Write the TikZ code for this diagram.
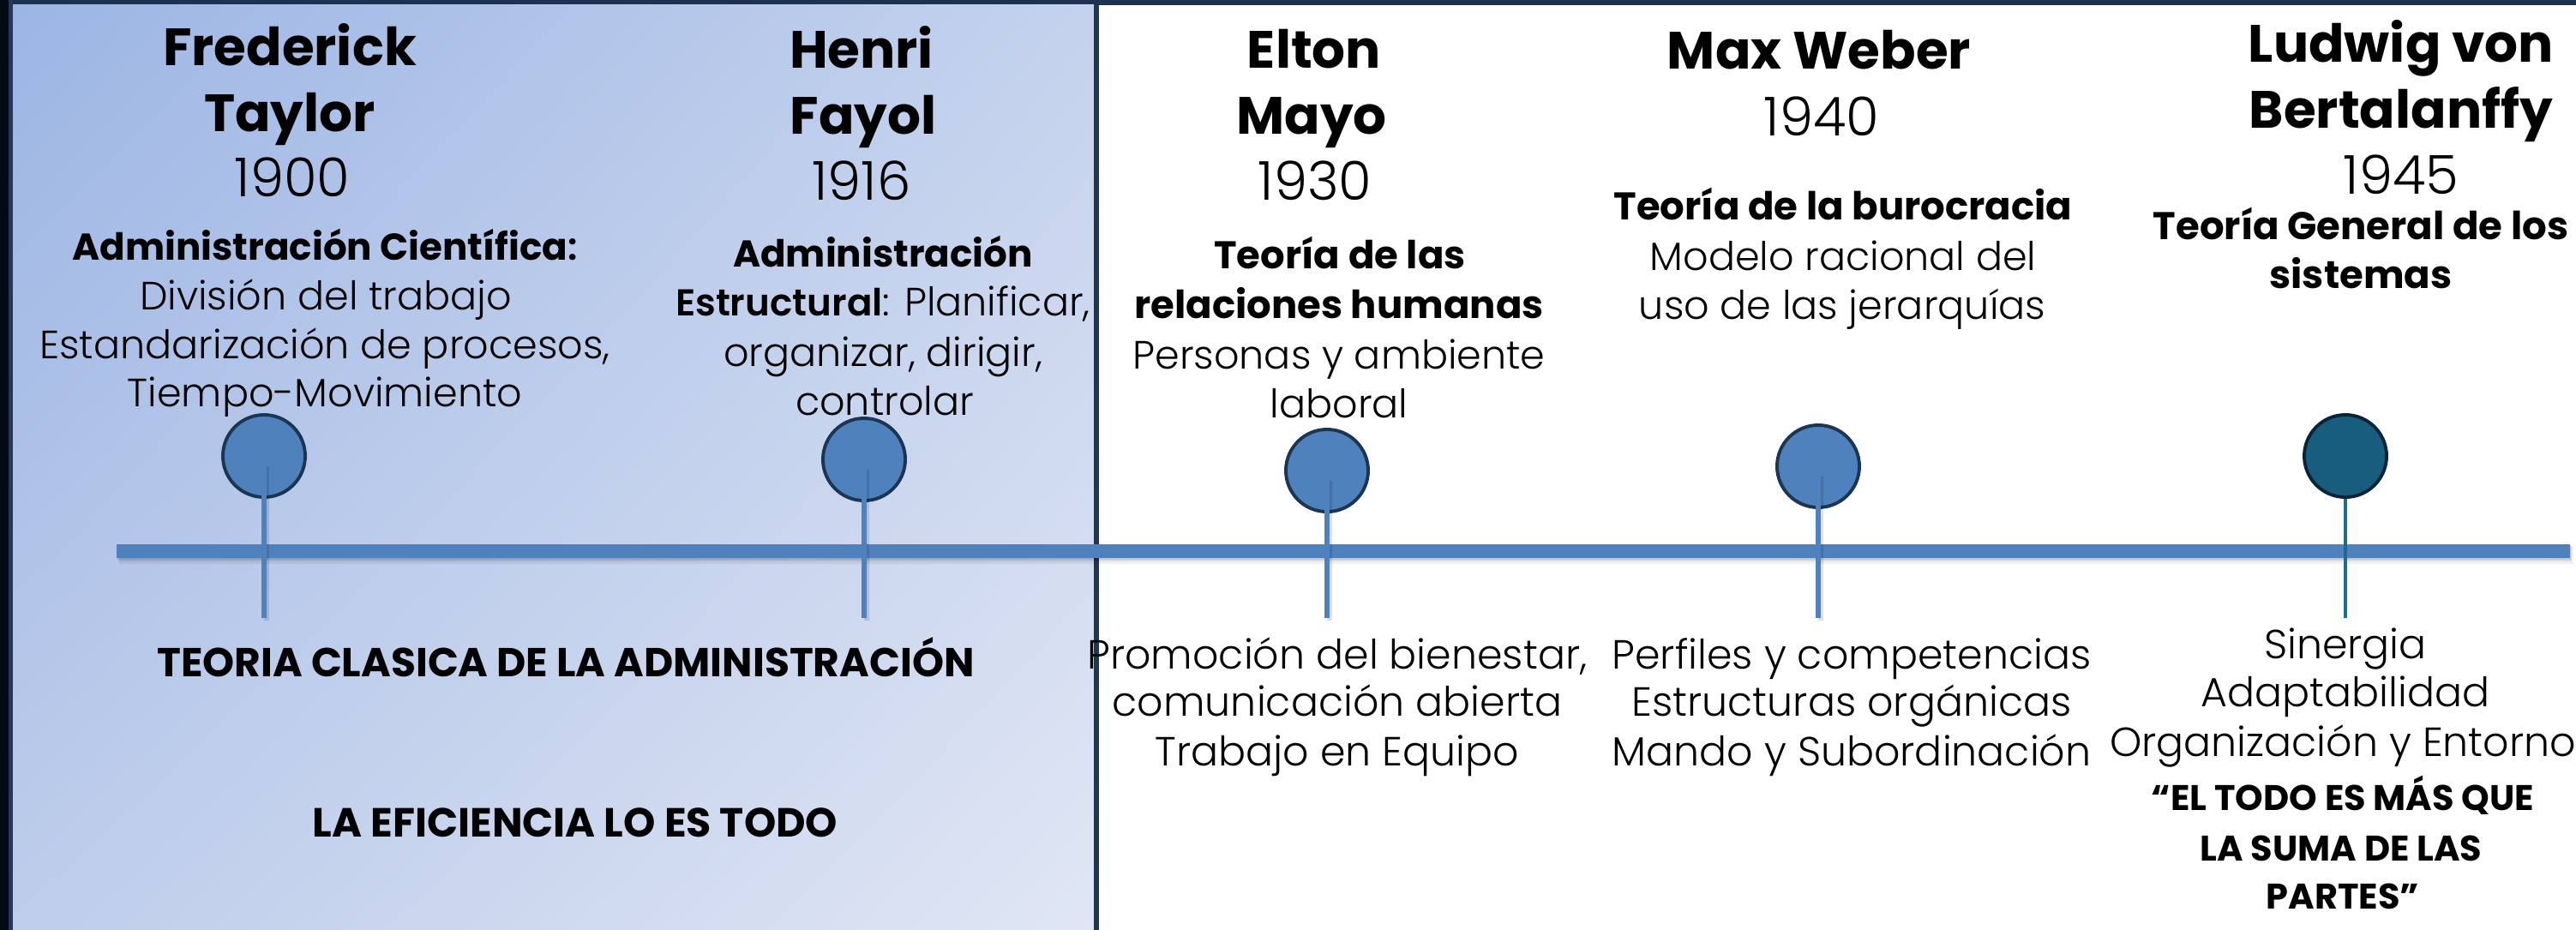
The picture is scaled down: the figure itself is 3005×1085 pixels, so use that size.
\documentclass[tikz,border=0pt]{standalone}
\usepackage{fontspec}
\usetikzlibrary{shadings}
\setmainfont{Poppins}
\IfFontExistsTF{Poppins Light}{\newfontfamily\lt{Poppins Light}}{\newfontfamily\lt{Poppins}}
\definecolor{barblue}{HTML}{4F81BD}
\definecolor{navy}{HTML}{1B3553}
\definecolor{tealfill}{HTML}{175E7E}
\definecolor{tealline}{HTML}{1F6A8E}
\definecolor{tealedge}{HTML}{0B2338}
\definecolor{bgdark}{HTML}{040A14}
\definecolor{topnavy}{HTML}{1D3150}
\definecolor{bordernavy}{HTML}{24395A}
\definecolor{divnavy}{HTML}{1F3654}
\definecolor{gUL}{RGB}{156,181,228}
\definecolor{gUR}{RGB}{196,210,237}
\definecolor{gLL}{RGB}{190,205,235}
\definecolor{gLR}{RGB}{224,230,244}
\begin{document}
\begin{tikzpicture}[x=0.01cm,y=-0.01cm,
 txt/.style={anchor=base, inner sep=0, outer sep=0, text=black},
 nm/.style={txt, font=\bfseries\fontsize{17.4}{20}\selectfont},
 yr/.style={txt, font=\lt\fontsize{17.8}{20}\selectfont},
 subA/.style={txt, font=\bfseries\fontsize{12.4}{14}\selectfont},
 subB/.style={txt, font=\bfseries\fontsize{12.8}{15}\selectfont},
 dsc/.style={txt, font=\lt\fontsize{13.1}{15}\selectfont},
 btm/.style={txt, font=\lt\fontsize{13.5}{16}\selectfont},
 capt/.style={txt, font=\bfseries\fontsize{13.4}{16}\selectfont},
 capt2/.style={txt, font=\bfseries\fontsize{13.5}{16}\selectfont},
 quo/.style={txt, font=\bfseries\fontsize{11.8}{14}\selectfont},
 dot/.style={circle, minimum size=0.96cm, inner sep=0, draw=navy, line width=1.1pt, fill=barblue},
 tdot/.style={dot, draw=tealedge, fill=tealfill},
 stem/.style={line width=1.7pt, draw=barblue},
 tstem/.style={line width=0.9pt, draw=tealline},
]
\useasboundingbox (0,0) rectangle (3005,1085);
% background frame
\fill[bgdark] (0,0) rectangle (3005,1085);
\fill[topnavy] (10,0) rectangle (3005,6);
\fill[bordernavy] (10,0) rectangle (15,1085);
\shade[upper left=gUL, upper right=gUR, lower left=gLL, lower right=gLR]
  (15,6) rectangle (1276,1085);
\fill[divnavy] (1276,6) rectangle (1282,1085);
\fill[white] (1282,6) rectangle (3005,1085);

% timeline bar with soft shadow
\fill[black, opacity=0.06] (139,638) rectangle (3002,658);
\fill[black, opacity=0.08] (138,637) rectangle (3000,655);
\fill[black, opacity=0.10] (137,636) rectangle (2999,653);
\fill[barblue] (136,635) rectangle (2998,651);

% circles
\node[dot]  (c1) at (308,532) {};
\node[dot]  (c2) at (1008,536) {};
\node[dot]  (c3) at (1548,549) {};
\node[dot]  (c4) at (2121,544) {};
\node[tdot] (c5) at (2736,532) {};

\coordinate (e1) at (308,721);
\coordinate (e2) at (1008,721);
\coordinate (e3) at (1548,721);
\coordinate (e4) at (2121,721);
\coordinate (e5) at (2736,721);

% stems
\foreach \i in {1,2,3,4}{
  \draw[line width=1.7pt, black, opacity=0.12] (c\i.center) ++(3,12) -- ([xshift=0.03cm,yshift=-0.03cm]e\i);
  \draw[stem] (c\i.center) ++(0,10) -- (e\i);
}
\draw[tstem] (c5.south) -- (e5);

% Taylor
\node[nm] (tay1) at (338,77) {Frederick};
\node[nm] (tay2) at (338,154) {Taylor};
\node[yr] (tay3) at (341,230) {1900};
\node[subA] (tay4) at (379,304) {Administración Científica{\lt:}};
\node[dsc] (tay5) at (380,361) {División del trabajo};
\node[dsc] (tay6) at (379,418) {Estandarización de procesos,};
\node[dsc] (tay7) at (379,475) {Tiempo-Movimiento};

% Fayol
\node[nm] (fay1) at (1005,80) {Henri};
\node[nm] (fay2) at (1007,157) {Fayol};
\node[yr] (fay3) at (1005,234) {1916};
\node[subA] (fay4) at (1030,311) {Administración};
\node[dsc] (fay5) at (1030,368) {{\bfseries\fontsize{12.4}{14}\selectfont Estructural}: Planificar,};
\node[dsc] (fay6) at (1030,427) {organizar, dirigir,};
\node[dsc] (fay7) at (1032,484) {controlar};

% Mayo
\node[nm] (may1) at (1533,80) {Elton};
\node[nm] (may2) at (1530,157) {Mayo};
\node[yr] (may3) at (1534,234) {1930};
\node[subB] (may4) at (1563,314) {Teoría de las};
\node[subB] (may5) at (1562,371) {relaciones humanas};
\node[dsc] (may6) at (1562,430) {Personas y ambiente};
\node[dsc] (may7) at (1562,487) {laboral};

% Weber
\node[nm] (web1) at (2122,81) {Max Weber};
\node[yr] (web2) at (2125,159) {1940};
\node[subB] (web3) at (2150,257) {Teoría de la burocracia};
\node[dsc] (web4) at (2150,316) {Modelo racional del};
\node[dsc] (web5) at (2149,373) {uso de las jerarquías};

% Bertalanffy
\node[nm] (ber1) at (2801,73) {Ludwig von};
\node[nm] (ber2) at (2801,150) {Bertalanffy};
\node[yr] (ber3) at (2801,227) {1945};
\node[subB] (ber4) at (2754,280) {Teoría General de los};
\node[subB] (ber5) at (2754,337) {sistemas};

% bottom texts
\node[capt] (cl1) at (660,789) {TEORIA CLASICA DE LA ADMINISTRACIÓN};
\node[capt2] (cl2) at (671,976) {LA EFICIENCIA LO ES TODO};

\node[btm] (mb1) at (1560,780) {Promoción del bienestar,};
\node[btm] (mb2) at (1560,835) {comunicación abierta};
\node[btm] (mb3) at (1560,893) {Trabajo en Equipo};

\node[btm] (wb1) at (2160,780) {Perfiles y competencias};
\node[btm] (wb2) at (2160,835) {Estructuras orgánicas};
\node[btm] (wb3) at (2160,893) {Mando y Subordinación};

\node[btm] (bb1) at (2736,768) {Sinergia};
\node[btm] (bb2) at (2736,824) {Adaptabilidad};
\node[btm] (bb3) at (2733,882) {Organización y Entorno};
\node[quo] (bb4) at (2733,945) {“EL TODO ES MÁS QUE};
\node[quo] (bb5) at (2731,1004) {LA SUMA DE LAS};
\node[quo] (bb6) at (2733,1060) {PARTES”};
\end{tikzpicture}
\end{document}
